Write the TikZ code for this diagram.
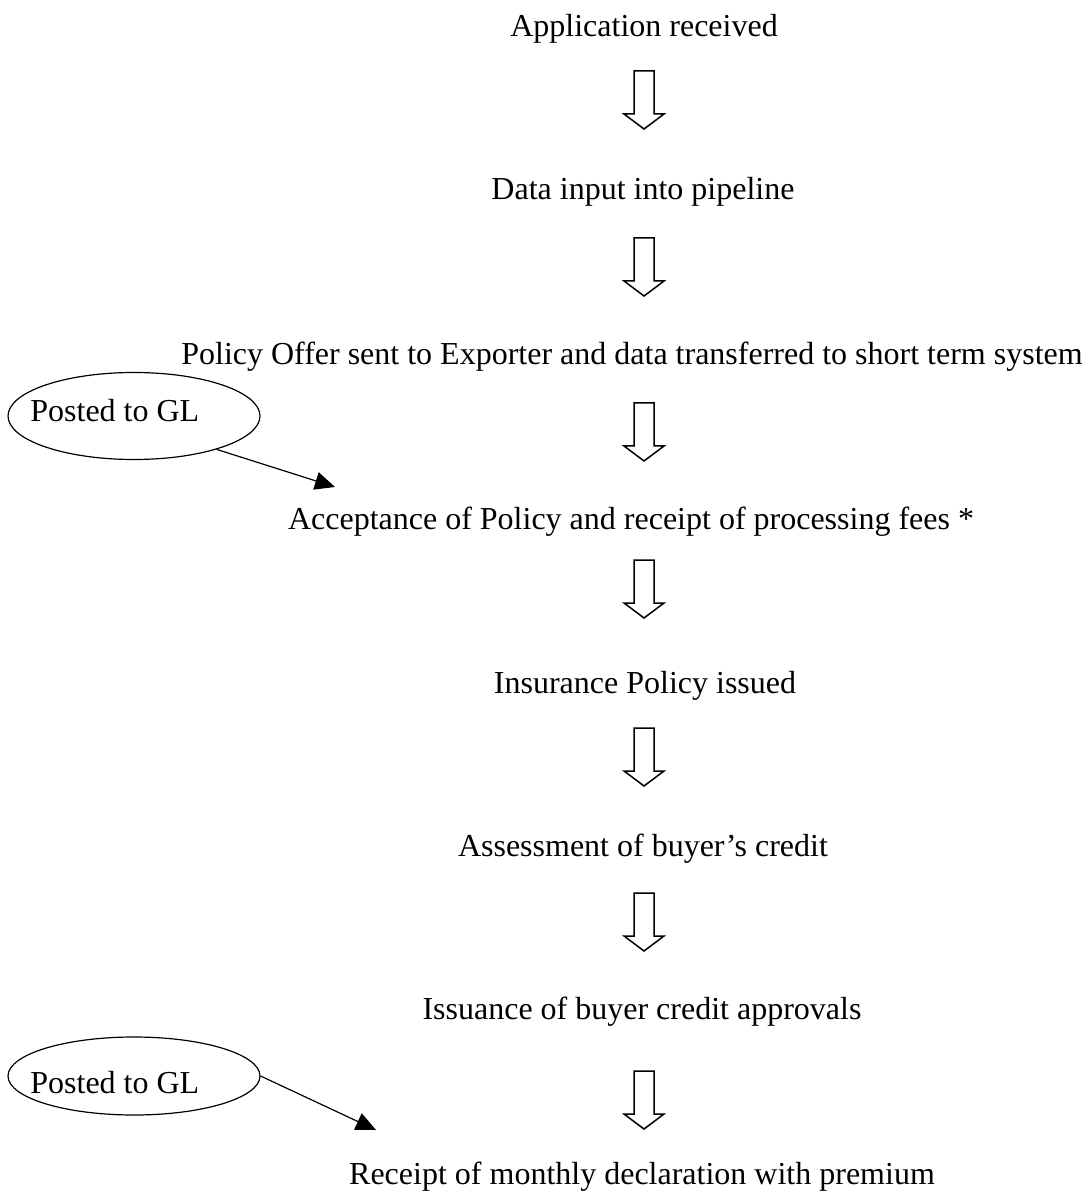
\documentclass[tikz,border=0pt]{standalone}
\usepackage{fontspec}
\setmainfont{Liberation Serif}
\usetikzlibrary{arrows.meta, shapes.geometric}

\begin{document}
\begin{tikzpicture}[
  x=0.5pt, y=-0.5pt,
  steptext/.style = {anchor=base, inner sep=0pt, font=\fontsize{16}{19}\selectfont},
  gltext/.style = {anchor=base west, inner sep=0pt, font=\fontsize{16}{19}\selectfont},
  glnote/.style = {ellipse, draw, line width=0.6pt, inner sep=0pt, minimum width=126pt, minimum height=43.5pt},
  pointer/.style = {-{Triangle[length=10pt, width=9pt]}, line width=0.6pt},
  blockarrow/.style = {draw, line width=0.75pt, line join=miter}
]

% Page size
\useasboundingbox (0,0) rectangle (1087,1202);

% Parameters
\def\ax{644}

% Process steps
\node[steptext] (received) at (644,37) {Application received};
\node[steptext] (input) at (643,200) {Data input into pipeline};
\node[steptext] (offer) at (632,365) {Policy Offer sent to Exporter and data transferred to short term system};
\node[steptext] (accept) at (631,529) {Acceptance of Policy and receipt of processing fees *};
\node[steptext] (issued) at (645,693) {Insurance Policy issued};
\node[steptext] (assess) at (643,856) {Assessment of buyer’s credit};
\node[steptext] (approve) at (642,1019) {Issuance of buyer credit approvals};
\node[steptext] (declare) at (642,1184) {Receipt of monthly declaration with premium};

% Block arrows between the steps
\foreach \t [count=\i] in {71,238,403,560,728,893,1071}{
  \coordinate (a\i) at (\ax,\t);
  \draw[blockarrow] (\ax-10,\t) -- (\ax-10,\t+43) -- (\ax-20,\t+43) -- (\ax,\t+58)
    -- (\ax+20,\t+43) -- (\ax+10,\t+43) -- (\ax+10,\t) -- cycle;
}

% GL postings
\node[glnote] (gl1) at (134,416) {};
\node[gltext] (gl1txt) at (30,422) {Posted to GL};
\node[glnote, minimum height=39pt] (gl2) at (134,1076) {};
\node[gltext] (gl2txt) at (30,1093) {Posted to GL};

\coordinate (gl1tip) at (335,487);
\coordinate (gl2tip) at (376,1130);
\draw[pointer] (gl1.-22) -- (gl1tip);
\draw[pointer] (gl2.east) -- (gl2tip);

\end{tikzpicture}
\end{document}
